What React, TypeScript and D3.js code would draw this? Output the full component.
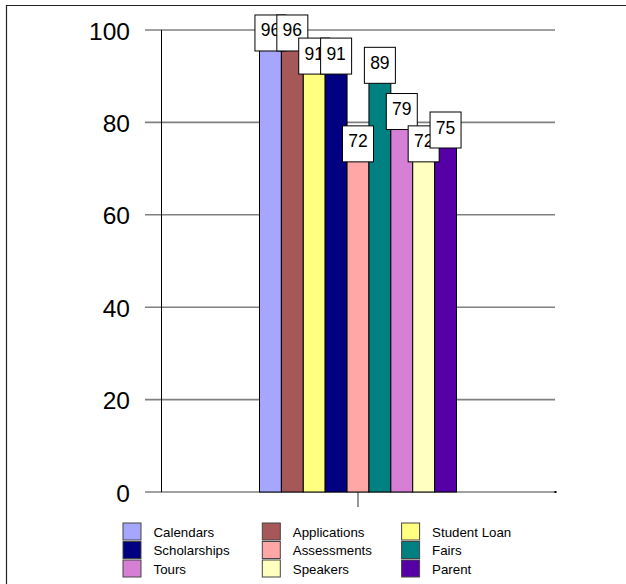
import * as d3 from "d3";
import React from "react";

// survey results, one bar per item
const categories = [
  "Calendars",
  "Applications",
  "Student Loan",
  "Scholarships",
  "Assessments",
  "Fairs",
  "Tours",
  "Speakers",
  "Parent",
];
const values = [96, 96, 91, 91, 72, 89, 79, 72, 75];
const colors = [
  "#A6A6FF",
  "#A65757",
  "#FFFF80",
  "#000080",
  "#FFA6A6",
  "#008080",
  "#D580D5",
  "#FFFFC0",
  "#5500A6",
];
const yTicks = [0, 20, 40, 60, 80, 100];
const groups = ["all"];

const W = 626;
const H = 584;
const margin = { top: 30, right: 71, bottom: 92, left: 161 };
const font = "Arial, 'Liberation Sans', sans-serif";

export default function App() {
  const x = d3
    .scaleBand<string>()
    .domain(groups)
    .range([margin.left, W - margin.right])
    .paddingInner(0.5)
    .paddingOuter(0.25);
  const y = d3.scaleLinear().domain([0, 100]).range([H - margin.bottom, margin.top]);
  const inner = d3
    .scaleBand<string>()
    .domain(categories)
    .range([x("all")!, x("all")! + x.bandwidth()]);
  const color = d3.scaleOrdinal<string, string>().domain(categories).range(colors);

  const y0 = y(0);
  const boxW = 31;
  const boxH = 36;

  return (
    <svg
      width={W}
      height={H}
      style={{ position: "absolute", left: 0, top: 0, background: "#fff" }}
      fontFamily={font}
    >
      {/* frame */}
      <path d={`M6.5,${H} V5.5 H${W}`} fill="none" stroke="#222" strokeWidth={1.2} />

      {/* gridlines */}
      {yTicks.map((t) => (
        <line
          key={t}
          x1={145}
          x2={W - margin.right}
          y1={y(t)}
          y2={y(t)}
          stroke="#808080"
          strokeWidth={1.6}
        />
      ))}
      {yTicks.map((t) => (
        <text key={"l" + t} x={130} y={y(t) + 9.5} textAnchor="end" fontSize={24.5} fill="#000">
          {t}
        </text>
      ))}
      <line x1={margin.left + 0.5} x2={margin.left + 0.5} y1={y(100)} y2={y0} stroke="#000" strokeWidth={1} />
      <line
        x1={x("all")! + x.bandwidth() / 2}
        x2={x("all")! + x.bandwidth() / 2}
        y1={y0}
        y2={y0 + 15}
        stroke="#333"
        strokeWidth={1}
      />
      <rect x={W - margin.right - 0.5} y={y0 - 1} width={2} height={2} fill="#000" />

      {/* bars */}
      {categories.map((c, i) => (
        <rect
          key={c}
          x={inner(c)}
          y={y(values[i])}
          width={inner.bandwidth()}
          height={y0 - y(values[i])}
          fill={color(c)}
          stroke="#000"
          strokeWidth={1}
        />
      ))}

      {/* value labels */}
      {categories.map((c, i) => {
        const cx = inner(c)! + inner.bandwidth() / 2;
        const top = y(values[i]) + 2.5 - boxH;
        return (
          <g key={"v" + c}>
            <rect x={cx - boxW / 2} y={top} width={boxW} height={boxH} fill="#fff" stroke="#000" strokeWidth={1} />
            <text x={cx} y={top + 21.5} textAnchor="middle" fontSize={17.5} fill="#000">
              {values[i]}
            </text>
          </g>
        );
      })}

      {/* legend */}
      {categories.map((c, i) => {
        const lx = 123 + (i % 3) * 139.3;
        const ly = 523 + Math.floor(i / 3) * 18.5;
        return (
          <g key={"g" + c}>
            <rect x={lx} y={ly} width={18} height={17} fill={color(c)} stroke="#444" strokeWidth={1} />
            <text x={lx + 30.5} y={ly + 13.5} fontSize={13.3} fill="#000">
              {c}
            </text>
          </g>
        );
      })}
    </svg>
  );
}
